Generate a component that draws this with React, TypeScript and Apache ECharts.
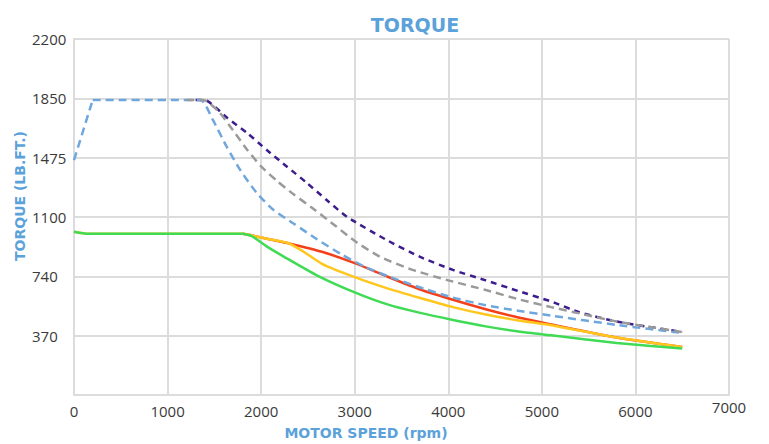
import React, { useEffect, useRef } from "react";
import * as echarts from "echarts";

// Tick labels (gridlines are evenly spaced; labels as printed)
const yTickLabels = ["", "370", "740", "1100", "1475", "1850", "2200"];
const xTicks = [0, 1000, 2000, 3000, 4000, 5000, 6000, 7000];

// Dashed: light blue (straight ramp, then curve)
const blueRampRpm = [0, 200];
const blueRampTq = [1465, 1840];
const blueRpm = [200, 1350, 1480, 1630, 1780, 1950, 2130, 2350, 2600, 2850, 3100, 3350, 3650, 4050, 4400, 4750, 5100, 5800, 6500];
const blueTq = [1840, 1840, 1720, 1550, 1400, 1262, 1155, 1068, 970, 880, 802, 742, 680, 607, 560, 525, 495, 437, 387];

// Dashed: grey
const greyRpm = [1200, 1380, 1550, 1700, 1850, 2000, 2170, 2350, 2550, 2800, 3000, 3270, 3620, 4000, 4400, 4750, 5100, 5400, 5800, 6500];
const greyTq = [1840, 1840, 1765, 1650, 1530, 1425, 1335, 1250, 1165, 1052, 960, 862, 780, 715, 655, 597, 548, 509, 458, 393];

// Dashed: purple
const purpleRpm = [1300, 1420, 1640, 1850, 2060, 2280, 2490, 2700, 2920, 3340, 3700, 4050, 4400, 4750, 5100, 5400, 5800, 6500];
const purpleTq = [1840, 1835, 1727, 1634, 1528, 1422, 1322, 1216, 1110, 967, 861, 780, 715, 648, 583, 516, 458, 393];

// Solid: green
const greenRpm = [0, 150, 1000, 1800, 1900, 2050, 2250, 2600, 3000, 3350, 3700, 4050, 4400, 4750, 5100, 5800, 6500];
const greenTq = [1018, 1005, 1005, 1005, 990, 930, 860, 745, 640, 565, 512, 468, 428, 396, 372, 325, 290];

// Solid: yellow
const yellowRpm = [0, 150, 1000, 1800, 1900, 2100, 2300, 2450, 2650, 3000, 3350, 3700, 4050, 4400, 4750, 5100, 5800, 6500];
const yellowTq = [1018, 1005, 1005, 1005, 995, 970, 945, 895, 818, 735, 665, 605, 548, 502, 465, 435, 358, 299];

// Solid: red
const redRpm = [1800, 1900, 2100, 2300, 2650, 3000, 3350, 3700, 4050, 4400, 4750, 5100, 5800, 6500];
const redTq = [1005, 995, 970, 945, 893, 822, 738, 658, 594, 535, 483, 440, 358, 299];

const zip = (xs: number[], ys: number[]) => xs.map((x, i) => [x, ys[i]]);

export default function App() {
  const ref = useRef<HTMLDivElement>(null);
  useEffect(() => {
    if (!ref.current) return;
    const chart = echarts.init(ref.current, undefined, { renderer: "svg" });
    const dashed = (name: string, xs: number[], ys: number[], color: string, dash: number[], smooth: number | boolean = 0.2) => ({
      name,
      type: "line",
      data: zip(xs, ys),
      showSymbol: false,
      smooth,
      lineStyle: { color, width: 2.5, type: dash },
    });
    const solid = (name: string, xs: number[], ys: number[], color: string) => ({
      name,
      type: "line",
      data: zip(xs, ys),
      showSymbol: false,
      smooth: 0.2,
      lineStyle: { color, width: 2.5 },
    });
    chart.setOption({
      animation: false,
      backgroundColor: "#ffffff",
      title: {
        text: "TORQUE",
        left: 410,
        top: 10,
        textAlign: "center",
        textStyle: { fontFamily: "DejaVu Sans", fontWeight: "bold", fontSize: 19, color: "#5ba2da" },
      },
      grid: { left: 74, right: 40, top: 39, bottom: 49, containLabel: false },
      xAxis: {
        type: "value",
        min: 0,
        max: 7000,
        interval: 1000,
        axisLine: { show: true, lineStyle: { color: "#dcdcdc", width: 2 } },
        axisTick: { show: false },
        splitLine: { show: true, lineStyle: { color: "#dcdcdc", width: 2 } },
        axisLabel: {
          margin: 8,
          fontFamily: "Open Sans",
          fontSize: 15,
          color: "#3a3a3a",
          formatter: (v: number) => (v === xTicks[xTicks.length - 1] ? "{hi|" + v + "}" : String(v)),
          rich: { hi: { fontFamily: "Open Sans", fontSize: 15, color: "#3a3a3a", lineHeight: 8 } },
        },
      },
      yAxis: {
        type: "value",
        min: 0,
        max: 2220,
        interval: 370,
        axisLine: { show: true, lineStyle: { color: "#dcdcdc", width: 2 } },
        axisTick: { show: false },
        splitLine: { show: true, lineStyle: { color: "#dcdcdc", width: 2 } },
        axisLabel: {
          align: "left",
          margin: 42,
          fontFamily: "Open Sans",
          fontSize: 15,
          color: "#3a3a3a",
          formatter: (v: number) => yTickLabels[Math.round(v / 370)] ?? "",
        },
      },
      graphic: [
        {
          type: "text",
          x: 20,
          y: 196,
          rotation: Math.PI / 2,
          style: {
            text: "TORQUE (LB.FT.)",
            fill: "#5ba2da",
            font: "bold 14px 'DejaVu Sans'",
            textAlign: "center",
            textVerticalAlign: "middle",
          },
        },
        {
          type: "text",
          x: 366,
          y: 433,
          style: {
            text: "MOTOR SPEED (rpm)",
            fill: "#5ba2da",
            font: "bold 14px 'DejaVu Sans'",
            textAlign: "center",
            textVerticalAlign: "middle",
          },
        },
      ],
      series: [
        solid("Red", redRpm, redTq, "#f4401a"),
        solid("Yellow", yellowRpm, yellowTq, "#ffc61e"),
        solid("Green", greenRpm, greenTq, "#40db55"),
        dashed("Purple", purpleRpm, purpleTq, "#3d1d8e", [6, 5]),
        dashed("Blue ramp", blueRampRpm, blueRampTq, "#6fa7dc", [8, 5], false),
        dashed("Blue", blueRpm, blueTq, "#6fa7dc", [8, 5]),
        dashed("Grey", greyRpm, greyTq, "#9a9a9a", [8, 5]),
      ],
    });
    return () => chart.dispose();
  }, []);
  return <div ref={ref} style={{ width: 769, height: 444, position: "absolute", left: 0, top: 0 }} />;
}
